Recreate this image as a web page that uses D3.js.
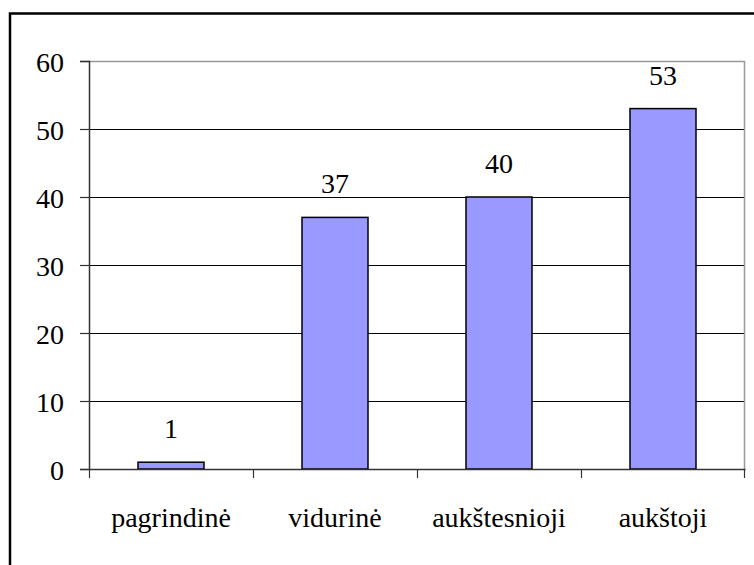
<!DOCTYPE html>
<html><head><meta charset="utf-8">
<script src="https://cdn.jsdelivr.net/npm/d3@7"></script>
<style>html,body{margin:0;padding:0;background:#fff;}svg{display:block;}</style>
</head><body>
<script>
const categories = ["pagrindinė", "vidurinė", "aukštesnioji", "aukštoji"];
const values = [1, 37, 40, 53];
const yTicks = [0, 10, 20, 30, 40, 50, 60];

const W = 754, H = 565;
const svg = d3.select("body").append("svg").attr("width", W).attr("height", H);
const FONT = "Liberation Serif";
function styleText(sel) {
  sel.style("font-family", FONT).style("font-size", "28px").style("fill", "#000");
}

// outer border (extends beyond right and bottom edges)
svg.append("rect").attr("x", 10).attr("y", 13.5).attr("width", 800).attr("height", 600)
  .attr("fill", "none").attr("stroke", "#000").attr("stroke-width", 2.5);

const m = {left: 89, top: 61, right: 745, bottom: 469};
const x = d3.scaleBand().domain(categories).range([m.left, m.right]).paddingInner(0).paddingOuter(0);
const y = d3.scaleLinear().domain([0, 60]).range([m.bottom, m.top]);

// gridlines
svg.append("g").selectAll("line").data(yTicks.filter(d => d > 0 && d < 60)).join("line")
  .attr("x1", m.left).attr("x2", m.right)
  .attr("y1", d => Math.round(y(d)) + 0.5).attr("y2", d => Math.round(y(d)) + 0.5)
  .attr("stroke", "#000").attr("stroke-width", 1);

// plot area border top/right (gray)
svg.append("path")
  .attr("d", `M${m.left},${m.top + 0.5}H${m.right - 0.5}V${m.bottom}`)
  .attr("fill", "none").attr("stroke", "#999").attr("stroke-width", 1.5);

// bars
const bw = 66;
svg.append("g").selectAll("rect").data(values).join("rect")
  .attr("x", (d, i) => x(categories[i]) + x.bandwidth() / 2 - bw / 2)
  .attr("y", d => y(d))
  .attr("width", bw)
  .attr("height", d => y(0) - y(d))
  .attr("fill", "#9999FF").attr("stroke", "#000").attr("stroke-width", 1.5);

// value labels
svg.append("g").selectAll("text").data(values).join("text")
  .attr("x", (d, i) => x(categories[i]) + x.bandwidth() / 2)
  .attr("y", d => y(d) - 24)
  .attr("text-anchor", "middle")
  .call(styleText)
  .text(d => d);

// y axis
const yAxis = d3.axisLeft(y).tickValues(yTicks).tickSize(9).tickPadding(16).tickFormat(d3.format("d"));
const gy = svg.append("g").attr("transform", `translate(${m.left},0)`).call(yAxis);
gy.attr("font-family", null).attr("font-size", null);
gy.select(".domain").attr("stroke", "#333").attr("stroke-width", 1.5);
gy.selectAll(".tick line").attr("stroke", "#333").attr("stroke-width", 1.2);
gy.selectAll(".tick text").attr("dy", "0.36em").call(styleText);

// x axis
const xAxis = d3.axisBottom(x).tickSize(0).tickPadding(0);
const gx = svg.append("g").attr("transform", `translate(0,${m.bottom})`).call(xAxis);
gx.attr("font-family", null).attr("font-size", null);
gx.select(".domain").attr("stroke", "#333").attr("stroke-width", 1.5);
gx.selectAll(".tick text").attr("dy", null).attr("y", 58).call(styleText);
// category boundary ticks
const bounds = categories.map(c => x(c)).concat([m.right]);
svg.append("g").selectAll("line").data(bounds).join("line")
  .attr("x1", d => d === m.right ? d - 0.5 : d + 0.5).attr("x2", d => d === m.right ? d - 0.5 : d + 0.5)
  .attr("y1", m.bottom).attr("y2", m.bottom + 9)
  .attr("stroke", "#333").attr("stroke-width", 1.2);
</script>
</body></html>
